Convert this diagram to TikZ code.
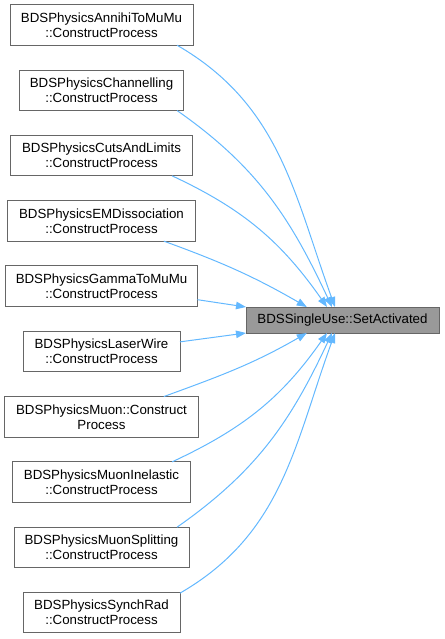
\documentclass[tikz,border=0pt]{standalone}
\usepackage{fontspec}
\setmainfont{Liberation Sans}
\usepackage{xcolor}
\usepackage{tikz}
\usetikzlibrary{arrows.meta,positioning}

\definecolor{edgeblue}{HTML}{63B8FF}
\definecolor{boxgray}{HTML}{666666}
\definecolor{fillgray}{HTML}{999999}

\begin{document}
\begin{tikzpicture}[
  x=1pt, y=1pt,
  node distance=24.8pt,
  box/.style={draw=boxgray, fill=white, line width=1pt, align=center, inner sep=0pt, outer sep=0pt,
    minimum height=40.5pt, font=\fontsize{13.3}{15}\selectfont},
  target/.style={box, fill=fillgray, minimum height=26pt},
  arrow/.style={-{Triangle[length=10pt, width=7.5pt]}, draw=edgeblue, line width=1pt}
]
\useasboundingbox (0,0) rectangle (444,-639);
\node[box, minimum width=183pt] (annihi) at (101.5,-25) {BDSPhysicsAnnihiToMuMu\\::ConstructProcess};
\node[box, minimum width=164pt, below=of annihi] (chan) {BDSPhysicsChannelling\\::ConstructProcess};
\node[box, minimum width=182pt, below=of chan] (cuts) {BDSPhysicsCutsAndLimits\\::ConstructProcess};
\node[box, minimum width=188pt, below=of cuts] (emdis) {BDSPhysicsEMDissociation\\::ConstructProcess};
\node[box, minimum width=192pt, below=of emdis] (gamma) {BDSPhysicsGammaToMuMu\\::ConstructProcess};
\node[box, minimum width=157pt, below=of gamma] (laser) {BDSPhysicsLaserWire\\::ConstructProcess};
\node[box, minimum width=194pt, below=of laser] (muon) {BDSPhysicsMuon::Construct\\Process};
\node[box, minimum width=178pt, below=of muon] (muinel) {BDSPhysicsMuonInelastic\\::ConstructProcess};
\node[box, minimum width=175pt, below=of muinel] (musplit) {BDSPhysicsMuonSplitting\\::ConstructProcess};
\node[box, minimum width=157pt, below=of musplit] (synch) {BDSPhysicsSynchRad\\::ConstructProcess};
\node[target, minimum width=193pt] (setact) at (342.5,-320) {BDSSingleUse::SetActivated};

\draw[arrow] (annihi.-15) to[out=-30, in=110] (setact.120);
\draw[arrow] (chan.-15) to[out=-35, in=115] (setact.129);
\draw[arrow] (cuts.-16) to[out=-25, in=125] (setact.140);
\draw[arrow] (emdis.-18) to[out=-20, in=150] (setact.160);
\draw[arrow] (gamma.-8) -- (setact.north west);
\draw[arrow] (laser.7) -- (setact.south west);
\draw[arrow] (muon.18) to[out=20, in=-150] (setact.200);
\draw[arrow] (muinel.16) to[out=25, in=-125] (setact.220);
\draw[arrow] (musplit.15) to[out=35, in=-115] (setact.231);
\draw[arrow] (synch.14) to[out=30, in=-110] (setact.240);
\end{tikzpicture}
\end{document}
